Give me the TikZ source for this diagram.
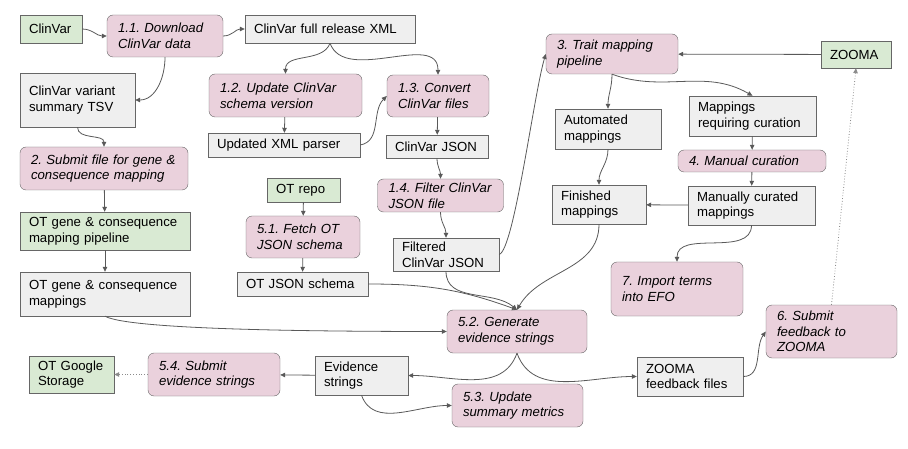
\documentclass[tikz,border=0pt]{standalone}
\usepackage{fontspec}
\setmainfont{Liberation Sans}
\usetikzlibrary{arrows.meta}
\newcommand\boxfont{\fontsize{13.2}{15.6}\selectfont\frenchspacing\hyphenpenalty=10000\relax}
\definecolor{pinkfill}{HTML}{EAD1DC}
\definecolor{greenfill}{HTML}{D9EAD3}
\definecolor{greyfill}{HTML}{EFEFEF}
\definecolor{edge}{HTML}{666666}
\definecolor{wire}{HTML}{595959}

\begin{document}
\begin{tikzpicture}[x=1pt, y=1pt,
    proc/.style={draw=edge, fill=pinkfill, rounded corners=6pt, font=\boxfont\itshape, align=left, inner xsep=11pt, inner ysep=2pt},
    data/.style={draw=edge, fill=greyfill, font=\boxfont, align=left, inner xsep=9pt, inner ysep=2pt},
    src/.style={data, fill=greenfill},
    sz/.style 2 args={text width=#1pt, minimum height=#2pt},
    link/.style={wire, line width=0.8pt, -{Triangle[length=5pt, width=4.5pt]}},
  ]
  \useasboundingbox (0,0) rectangle (908,-449);

  \node[src, sz={44}{28}] (clinvar) at (51,-29) {ClinVar};
  \node[proc, sz={94}{42}] (dl) at (165,-36) {1.1. Download\\ClinVar data};
  \node[data, sz={152}{28}] (xml) at (330,-29) {ClinVar full release XML};
  \node[data, sz={97}{54}] (tsv) at (77.5,-100) {ClinVar variant\\summary TSV};
  \node[proc, sz={131}{43}] (upd) at (285.5,-95.5) {1.2. Update ClinVar\\schema version};
  \node[proc, sz={80}{42}] (conv) at (438,-96) {1.3. Convert\\ClinVar files};
  \node[data, sz={134}{24}] (parser) at (284,-145) {Updated XML parser};
  \node[data, sz={84}{23}] (json) at (437,-146.5) {ClinVar JSON};
  \node[proc, sz={146}{43}] (submit) at (104,-168.5) {2. Submit file for gene \&\\consequence mapping};
  \node[src, sz={55}{24}] (otrepo) at (303.5,-190) {OT repo};
  \node[proc, sz={104}{33}] (filter) at (440.5,-195.5) {1.4. Filter ClinVar\\JSON file};
  \node[src, sz={152}{38}] (otpipe) at (105,-231) {OT gene \& consequence\\mapping pipeline};
  \node[proc, sz={92}{42}] (fetch) at (303,-237) {5.1. Fetch OT\\JSON schema};
  \node[data, sz={88}{33}] (filtered) at (446,-254.5) {Filtered\\ClinVar JSON};
  \node[data, sz={152}{44}] (otmap) at (105,-294) {OT gene \& consequence\\mappings};
  \node[data, sz={113}{24}] (schema) at (302.5,-284) {OT JSON schema};
  \node[proc, sz={118}{43}] (gen) at (517,-331.5) {5.2. Generate\\evidence strings};
  \node[src, sz={67}{37}] (gcs) at (71.5,-374.5) {OT Google\\Storage};
  \node[proc, sz={110}{43}] (subev) at (214,-374.5) {5.4. Submit\\evidence strings};
  \node[data, sz={75}{39}] (evid) at (361.5,-375.5) {Evidence\\strings};
  \node[proc, sz={109}{43}] (metrics) at (517.5,-405.5) {5.3. Update\\summary metrics};
  \node[data, sz={88}{39}] (zfb) at (690,-376.5) {ZOOMA\\feedback files};
  \node[proc, sz={109}{53}] (subfb) at (831.5,-331.5) {6. Submit\\feedback to\\ZOOMA};
  \node[proc, sz={110}{54}] (efo) at (677,-289) {7. Import terms\\into EFO};
  \node[proc, sz={110}{40}] (trait) at (612,-54) {3. Trait mapping\\pipeline};
  \node[src, sz={52}{27}] (zooma) at (856,-54.5) {ZOOMA};
  \node[data, sz={88}{40}] (auto) at (608,-129) {Automated\\mappings};
  \node[data, sz={109}{40}] (req) at (752.5,-116) {Mappings\\requiring curation};
  \node[proc, sz={126}{22}] (manual) at (752,-161) {4. Manual curation};
  \node[data, sz={76}{39}] (fin) at (599,-204.5) {Finished\\mappings};
  \node[data, sz={109}{39}] (cur) at (751.5,-205.5) {Manually curated\\mappings};

  \draw[link] (clinvar.east) to[out=0, in=180] (dl.west);
  \draw[link] (dl.east) to[out=0, in=180] (xml.west);
  \draw[link] (dl.south) to[out=-90, in=0] (tsv.east);
  \draw[link] (xml.south) to[out=-110, in=90] (upd.north);
  \draw[link] (xml.south) to[out=-70, in=90] (conv.north);
  \draw[link] (upd) -- (parser);
  \draw[link] (parser.east) to[out=10, in=225] (conv.west);
  \draw[link] (conv) -- (json);
  \draw[link] (json.south) to[out=-90, in=90] (filter.north);
  \draw[link] (filter.south) to[out=-90, in=90] (filtered.north);
  \draw[link] (filtered.east) .. controls +(15,5) and +(-12,-40) .. (trait.west);
  \draw[link] (tsv.south) to[out=-90, in=90] (submit.north);
  \draw[link] (submit) -- (otpipe);
  \draw[link] (otpipe) -- (otmap);
  \draw[link] (otrepo) -- (fetch);
  \draw[link] (fetch) -- (schema);
  \draw[link] (otmap.south) .. controls +(25,-14) and +(-120,0) .. (gen.west);
  \draw[link] (schema.east) to[out=0, in=160] (gen.north);
  \draw[link] (filtered.south) to[out=-90, in=140] (gen.north);
  \draw[link] (fin.south) to[out=-90, in=60] (gen.north);
  \draw[link] (gen.south) to[out=-110, in=0] (evid.east);
  \draw[link] (gen.south) to[out=-70, in=180] (zfb.west);
  \draw[link] (evid) -- (subev);
  \draw[link, wire!70, dotted] (subev) -- (gcs);
  \draw[link] (evid.south) to[out=-70, in=180] (metrics.west);
  \draw[link] (zfb.east) to[out=0, in=235] (subfb.west);
  \draw[link, wire!70, dotted] (subfb.north) -- (zooma.south);
  \draw[link] (zooma) -- (trait);
  \draw[link] (trait.south) to[out=-90, in=90] (auto.north);
  \draw[link] (trait.south) to[out=-20, in=150] (req.north);
  \draw[link] (req) -- (manual);
  \draw[link] (manual) -- (cur);
  \draw[link] (cur) -- (fin);
  \draw[link] (auto.south) to[out=-90, in=90] (fin.north);
  \draw[link] (cur.south) to[out=-90, in=90] (efo.north);
\end{tikzpicture}
\end{document}
